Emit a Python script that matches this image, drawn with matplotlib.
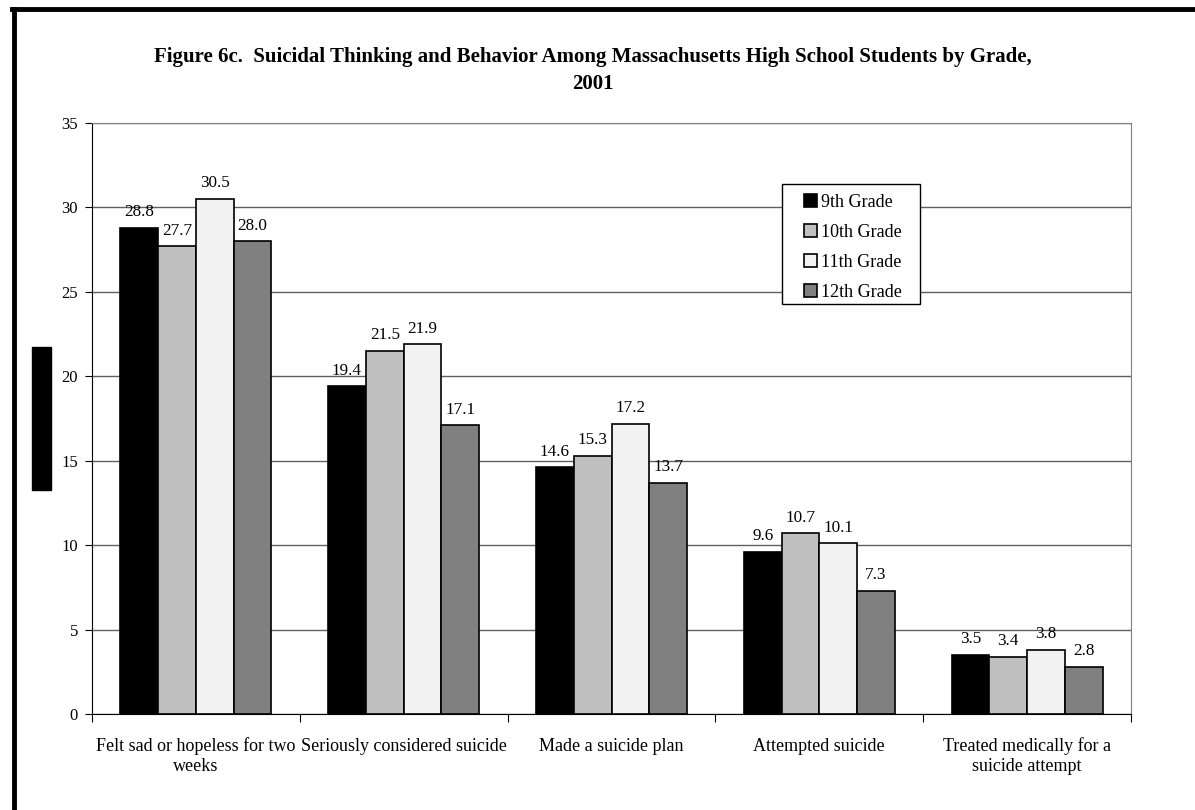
import matplotlib
matplotlib.use("Agg")
import matplotlib.pyplot as plt
from matplotlib.patches import Rectangle
from matplotlib.lines import Line2D
import numpy as np

plt.rcParams['font.family'] = ['Liberation Serif', 'DejaVu Serif']

categories = ["Felt sad or hopeless for two\nweeks", "Seriously considered suicide",
              "Made a suicide plan", "Attempted suicide",
              "Treated medically for a\nsuicide attempt"]
grades = ["9th Grade", "10th Grade", "11th Grade", "12th Grade"]
grade9 = [28.8, 19.4, 14.6, 9.6, 3.5]
grade10 = [27.7, 21.5, 15.3, 10.7, 3.4]
grade11 = [30.5, 21.9, 17.2, 10.1, 3.8]
grade12 = [28.0, 17.1, 13.7, 7.3, 2.8]
colors = ["#000000", "#C0C0C0", "#F2F2F2", "#808080"]

W, H = 1195, 810
fig = plt.figure(figsize=(W / 100, H / 100), dpi=100)
ax = fig.add_axes([92 / W, 1 - 714 / H, (1131 - 92) / W, (714 - 123) / H])

x = np.arange(len(categories))
w = 1 / 5.5
for j, vals in enumerate([grade9, grade10, grade11, grade12]):
    pos = x + (j - 1.5) * w
    ax.bar(pos, vals, width=w, color=colors[j], edgecolor="black", linewidth=1.2,
           label=grades[j], zorder=3)
    for p, v in zip(pos, vals):
        ax.text(p, v + 0.45, f"{v:.1f}", ha="center", va="bottom", fontsize=12.3, zorder=4)

ax.set_xlim(-0.5, 4.5)
ax.set_ylim(0, 35)
ax.set_yticks(range(0, 36, 5))
ax.yaxis.grid(True, color="#606060", linewidth=1)
ax.set_axisbelow(True)
ax.set_xticks(np.arange(-0.5, 5, 1))
ax.set_xticklabels([])
ax.set_xticks(x, minor=True)
ax.set_xticklabels(categories, minor=True, fontsize=13)
ax.tick_params(axis="x", which="minor", length=0, pad=17)
ax.tick_params(axis="x", which="major", length=6, direction="out")
ax.tick_params(axis="y", length=5, direction="out", labelsize=12, pad=5)
ax.spines["top"].set_color("#808080")
ax.spines["right"].set_color("#808080")

# legend: frame drawn separately so the padding matches
ax.add_patch(Rectangle(((782 - 92) / 1039, (714 - 304) / 591), (920 - 782) / 1039,
                       (304 - 184) / 591, transform=ax.transAxes, facecolor="white",
                       edgecolor="black", linewidth=1, zorder=5))
leg = ax.legend(loc="upper left", bbox_to_anchor=((804 - 92) / 1039, (714 - 194) / 591),
                fontsize=13, frameon=False, handlelength=0.72, handleheight=0.72,
                handletextpad=0.2, borderpad=0, labelspacing=0.72, borderaxespad=0)
leg.set_zorder(6)

fig.text(0.496, 1 - 62 / H,
         "Figure 6c.  Suicidal Thinking and Behavior Among Massachusetts High School Students by Grade,",
         ha="center", va="baseline", fontsize=15, fontweight="bold")
fig.text(0.496, 1 - 89 / H, "2001",
         ha="center", va="baseline", fontsize=15, fontweight="bold")

# redacted axis label block
fig.patches.append(Rectangle((32 / W, 1 - 490 / H), 19 / W, 143 / H,
                             transform=fig.transFigure, color="black"))

# outer border (left and top)
fig.lines.append(Line2D([14 / W, 14 / W], [0, 1 - 9 / H],
                        transform=fig.transFigure, color="black", linewidth=3.5))
fig.lines.append(Line2D([12 / W, 1], [1 - 9 / H, 1 - 9 / H],
                        transform=fig.transFigure, color="black", linewidth=3.5))

fig.savefig("out.png", dpi=100)
